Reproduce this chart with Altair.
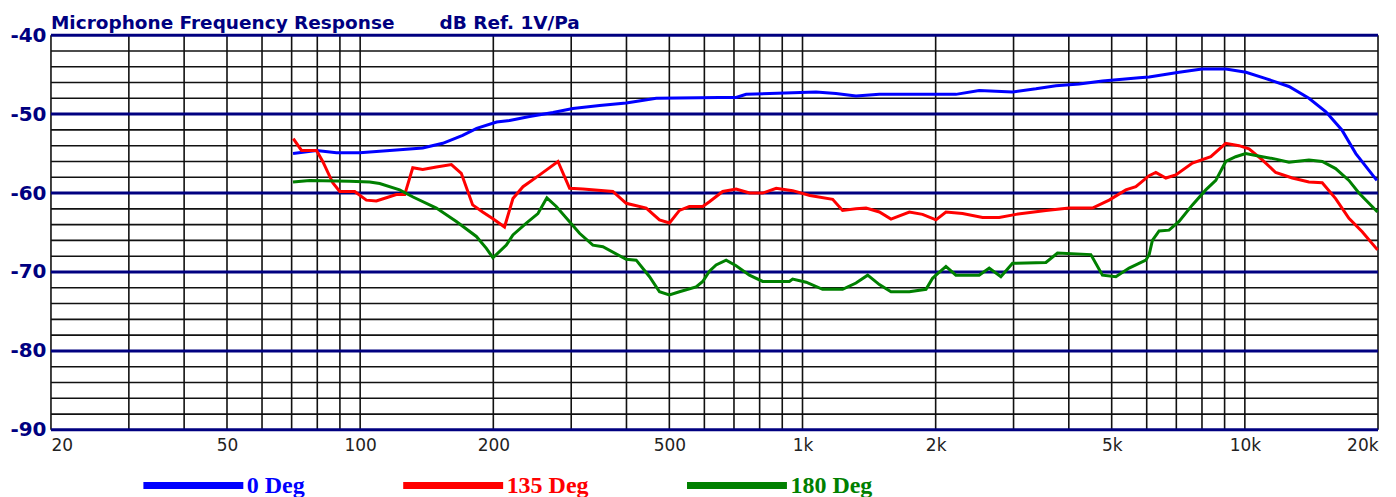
import altair as alt
import pandas as pd

# ---- data ----
blue_f = [70.5, 79.7, 88.4, 99.8, 116.7, 138.5, 153.7, 170.5, 183.4, 203.5, 217.7, 241.6, 272.8, 302.6,
          347.8, 399.4, 467, 648.8, 707.8, 745.6, 950, 1073, 1190, 1321, 1492, 2038, 2222, 2508, 2984,
          3370, 3740, 4222, 4765, 5288, 5768, 6076, 7100, 8000, 9060, 10060, 11160, 12580, 13960, 15250,
          16570, 17820, 19060, 19880]
blue_db = [-55.0, -54.6, -54.9, -54.9, -54.6, -54.3, -53.7, -52.7, -51.8, -51.0, -50.8, -50.3, -49.8, -49.3,
           -48.9, -48.6, -48.0, -47.9, -47.9, -47.5, -47.3, -47.2, -47.4, -47.7, -47.5, -47.5, -47.5, -47.0, -47.2,
           -46.8, -46.4, -46.2, -45.8, -45.6, -45.4, -45.3, -44.7, -44.3, -44.3, -44.7, -45.5, -46.5, -48.0, -49.7,
           -52.0, -55.0, -57.1, -58.4]

red_f = [70.6, 73.7, 79.7, 82.3, 86.7, 89.9, 97.2, 103.3, 108.8, 114.6, 120.7, 126.1, 131.5, 138.5, 148.7,
         160.8, 169.3, 179.6, 189.2, 200, 212, 221.5, 233.4, 254.6, 280, 297.5, 318.8, 372.6, 399.4, 443.3,
         475, 500.4, 527, 555, 594.9, 616, 660, 708, 759, 813, 872, 950, 1039, 1170, 1232, 1321, 1392, 1492,
         1585, 1744, 1868, 2003, 2110, 2300, 2553, 2784, 3038, 3550, 4008, 4524, 4934, 5382, 5670, 6076,
         6292, 6628, 6981, 7611, 8376, 9054, 9701, 10220, 10950, 11740, 12800, 13960, 14960, 16040, 17190,
         18420, 19950]
red_db = [-53.1, -54.6, -54.6, -56.0, -58.7, -59.8, -59.8, -60.9, -61.0, -60.6, -60.2, -60.2, -56.8, -57.0, -56.7,
          -56.4, -57.5, -61.5, -62.4, -63.3, -64.3, -60.7, -59.2, -57.7, -56.0, -59.4, -59.5, -59.8, -61.3, -61.9,
          -63.4, -63.8, -62.2, -61.7, -61.7, -61.1, -59.8, -59.5, -60.0, -60.0, -59.4, -59.7, -60.3, -60.8, -62.2,
          -62.0, -61.9, -62.4, -63.3, -62.4, -62.7, -63.4, -62.4, -62.6, -63.1, -63.1, -62.7, -62.2, -61.9, -61.9,
          -60.9, -59.6, -59.2, -57.8, -57.4, -58.1, -57.7, -56.2, -55.4, -53.7, -54.0, -54.4, -55.8, -57.4, -58.1,
          -58.6, -58.7, -60.7, -63.2, -64.9, -67.2]

green_f = [70.5, 76.9, 94.7, 105.1, 110.7, 122.8, 131.7, 148.7, 165, 183.1, 192.9, 199.6, 214, 221.5, 237.5,
           252.3, 264.3, 277.6, 313.3, 335.8, 353.8, 399.4, 420.8, 451, 475, 500, 527, 574.7, 595, 616, 637.8,
           672, 707.8, 758.6, 812.8, 934, 950, 1019, 1110, 1232, 1321, 1404, 1492, 1585, 1744, 1902, 1968,
           2003, 2110, 2222, 2508, 2643, 2808, 2984, 3550, 3771, 4486, 4765, 5110, 5475, 5973, 6076, 6180,
           6400, 6740, 7100, 7611, 8160, 8597, 9054, 9536, 10040, 10950, 11740, 12580, 13960, 14960, 16040,
           17190, 18110, 19950]
green_db = [-58.6, -58.4, -58.5, -58.6, -58.8, -59.6, -60.5, -61.9, -63.6, -65.5, -67.0, -68.2, -66.6, -65.3, -63.8,
            -62.6, -60.6, -61.7, -65.1, -66.6, -66.8, -68.4, -68.5, -70.6, -72.5, -72.9, -72.5, -71.9, -71.2, -69.9,
            -69.1, -68.5, -69.2, -70.4, -71.2, -71.2, -70.9, -71.3, -72.2, -72.2, -71.4, -70.4, -71.6, -72.5, -72.5,
            -72.2, -70.8, -70.4, -69.3, -70.4, -70.4, -69.5, -70.6, -68.9, -68.8, -67.6, -67.8, -70.4, -70.6, -69.5,
            -68.5, -67.8, -66.0, -64.8, -64.7, -63.6, -61.5, -59.6, -58.4, -56.0, -55.4, -55.0, -55.4, -55.7, -56.1,
            -55.8, -56.0, -56.9, -58.4, -60.0, -62.4]

series_names = ["0 Deg", "135 Deg", "180 Deg"]
series_colors = ["#0000ff", "#ff0000", "#008000"]

# grid / tick values
h_major = [-40, -50, -60, -70, -80, -90]
h_minor = [-42, -44, -46, -48, -52, -54, -56, -58, -62, -64, -66, -68, -72, -74, -76, -78, -82, -84, -86, -88]
v_lines = [20, 30, 40, 50, 60, 70, 80, 90, 100, 200, 300, 400, 500, 600, 700, 800, 900,
           1000, 2000, 3000, 4000, 5000, 6000, 7000, 8000, 9000, 10000, 20000]
x_ticks = [20, 50, 100, 200, 500, 1000, 2000, 5000, 10000, 20000]
y_ticks = [-40, -50, -60, -70, -80, -90]

rows = []
for name, fs, ds in [(series_names[0], blue_f, blue_db), (series_names[1], red_f, red_db),
                     (series_names[2], green_f, green_db)]:
    for f, d in zip(fs, ds):
        rows.append({"series": name, "freq": f, "db": d})
df = pd.DataFrame(rows)

xscale = alt.Scale(type="log", domain=[20, 20000], nice=False)
yscale = alt.Scale(domain=[-90, -40], nice=False, zero=False)

xaxis = alt.Axis(values=x_ticks, title=None, grid=False, ticks=False, domain=False,
                 labelExpr="datum.value >= 1000 ? (datum.value / 1000) + 'k' : datum.value",
                 labelFlush=True, labelFont="DejaVu Sans", labelFontSize=17,
                 labelColor="#222222", labelPadding=8)
yaxis = alt.Axis(values=y_ticks, title=None, grid=False, ticks=False, domain=False,
                 labelExpr="'-' + abs(datum.value)",
                 labelFont="DejaVu Sans", labelFontSize=20, labelFontWeight="bold",
                 labelColor="#000080", labelPadding=5, labelBaseline="middle")

minor = alt.Chart(pd.DataFrame({"v": h_minor})).mark_rule(color="#111111", strokeWidth=1.6).encode(
    y=alt.Y("v:Q", scale=yscale, axis=yaxis))
vert = alt.Chart(pd.DataFrame({"v": v_lines})).mark_rule(color="#111111", strokeWidth=1.6).encode(
    x=alt.X("v:Q", scale=xscale, axis=xaxis))
major = alt.Chart(pd.DataFrame({"v": h_major})).mark_rule(color="#000080", strokeWidth=3).encode(
    y=alt.Y("v:Q", scale=yscale, axis=yaxis))

label_color_expr = ("datum.value == '0 Deg' ? '#0000ff' : "
                    "(datum.value == '135 Deg' ? '#ff0000' : '#008000')")

lines = alt.Chart(df).mark_line(strokeWidth=3, interpolate="linear").encode(
    x=alt.X("freq:Q", scale=xscale, axis=xaxis),
    y=alt.Y("db:Q", scale=yscale, axis=yaxis),
    color=alt.Color("series:N", sort=series_names,
                    scale=alt.Scale(domain=series_names, range=series_colors),
                    legend=alt.Legend(orient="none", legendX=89, legendY=397, direction="horizontal",
                                      title=None, symbolType="stroke", symbolSize=10000,
                                      symbolStrokeWidth=7, labelFont="Liberation Serif",
                                      labelFontWeight="bold", labelFontSize=24,
                                      labelColor=alt.ExprRef(label_color_expr),
                                      labelOffset=0, columnPadding=84, padding=0, labelLimit=0)),
    detail="series:N",
)

chart = alt.layer(minor, vert, major, lines).properties(
    width=1328, height=395,
    title=alt.TitleParams(text="Microphone Frequency Response" + "\u00a0" * 7 + "dB Ref. 1V/Pa",
                          anchor="start", frame="group", font="DejaVu Sans", fontSize=18.5,
                          fontWeight="bold", color="#000080", offset=-7),
    autosize=alt.AutoSizeParams(type="none"),
    padding={"left": 43, "top": 27, "right": 10, "bottom": 68},
    background="white",
).configure_view(stroke=None)

chart.save("out.html", embed_options={"renderer": "svg", "actions": False})
